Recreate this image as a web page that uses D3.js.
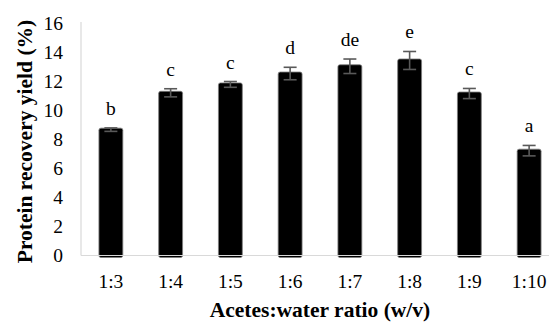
<!DOCTYPE html>
<html><head><meta charset="utf-8">
<script src="https://cdn.jsdelivr.net/npm/d3@7"></script>
<style>body{margin:0;background:#fff}svg{display:block}
text{font-family:"Liberation Serif","Times New Roman",Times,serif}</style>
</head><body>
<svg id="c" width="550" height="322"></svg>
<script>
const categories = ["1:3","1:4","1:5","1:6","1:7","1:8","1:9","1:10"];
const values = [8.68, 11.22, 11.8, 12.55, 13.05, 13.45, 11.17, 7.23];
const errors = [0.12, 0.28, 0.2, 0.43, 0.5, 0.62, 0.35, 0.36];
const letters = ["b","c","c","d","de","e","c","a"];
const yTicks = [0,2,4,6,8,10,12,14,16];

const svg = d3.select("#c");
const x = d3.scaleBand().domain(categories).range([81, 559]).paddingInner(0.6).paddingOuter(0.3);
const y = d3.scaleLinear().domain([0,16]).range([255.5, 23.5]);

// bars
svg.append("g").selectAll("rect").data(values).join("rect")
  .attr("x", (d,i)=>x(categories[i]))
  .attr("width", x.bandwidth())
  .attr("y", d=>y(d)-1.5)
  .attr("height", d=>y(0)-y(d)+3.5)
  .attr("rx", 2)
  .attr("fill", "#000").attr("stroke", "#7f7f7f").attr("stroke-width", 0.8);

// axis lines
svg.append("line").attr("x1",81).attr("x2",549).attr("y1",y(0)).attr("y2",y(0))
  .attr("stroke","#d9d9d9").attr("stroke-width",1.2);
svg.append("line").attr("x1",81).attr("x2",81).attr("y1",22).attr("y2",y(0))
  .attr("stroke","#d9d9d9").attr("stroke-width",1.2);

// error bars
const eg = svg.append("g").attr("stroke","#595959").attr("stroke-width",1.6);
values.forEach((v,i)=>{
  const cx = x(categories[i]) + x.bandwidth()/2;
  const t = y(v+errors[i]), b = y(v-errors[i]);
  eg.append("line").attr("x1",cx).attr("x2",cx).attr("y1",t).attr("y2",b);
  eg.append("line").attr("x1",cx-6.5).attr("x2",cx+6.5).attr("y1",t).attr("y2",t);
  eg.append("line").attr("x1",cx-6.5).attr("x2",cx+6.5).attr("y1",b).attr("y2",b);
});

// letters
svg.append("g").selectAll("text").data(letters).join("text")
  .attr("x",(d,i)=>x(categories[i]) + x.bandwidth()/2)
  .attr("y",(d,i)=>y(values[i]+errors[i]) - 13)
  .attr("text-anchor","middle").style("font-size","19.5px")
  .text(d=>d);

// y tick labels
const yAxis = d3.axisLeft(y).tickValues(yTicks).tickSize(0).tickPadding(18);
const ya = svg.append("g").attr("transform","translate(81,0)").call(yAxis);
ya.select(".domain").remove();
ya.attr("font-family",null).attr("font-size",null);
ya.selectAll("text").style("font-size","19.5px").attr("fill","#000").attr("dy","0.33em");

// x tick labels
const xAxis = d3.axisBottom(x).tickSize(0).tickPadding(19);
const xa = svg.append("g").attr("transform",`translate(0,${y(0)})`).call(xAxis);
xa.select(".domain").remove();
xa.attr("font-family",null).attr("font-size",null);
xa.selectAll("text").style("font-size","19.5px").attr("fill","#000");

// titles
svg.append("text").attr("x",320).attr("y",317).attr("text-anchor","middle")
  .style("font-size","21.5px").style("font-weight","bold")
  .text("Acetes:water ratio (w/v)");
svg.append("text").attr("transform","translate(32,141.5) rotate(-90)").attr("text-anchor","middle")
  .style("font-size","21.5px").style("font-weight","bold")
  .text("Protein recovery yield (%)");
</script>
</body></html>
